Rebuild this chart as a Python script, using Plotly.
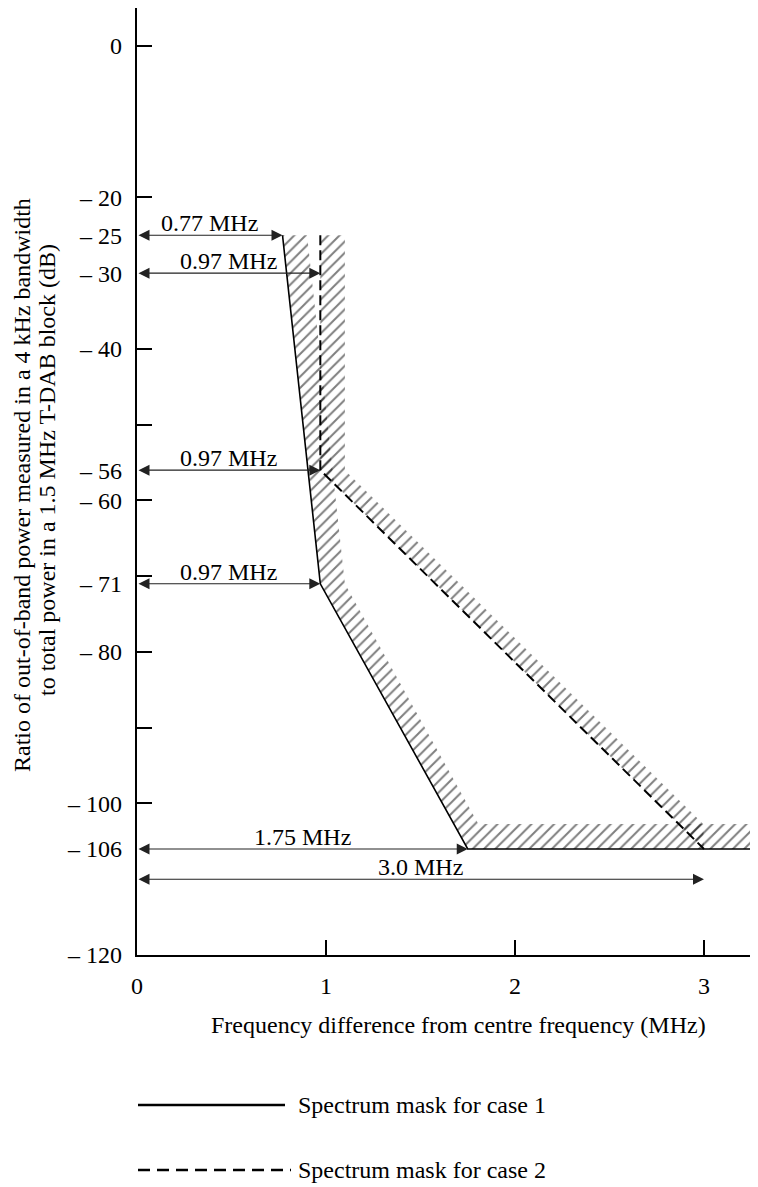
import plotly.graph_objects as go

# ---- data ----
freq_case1 = [0.77, 0.97, 1.75, 3.27]
level_case1 = [-25, -71, -106, -106]
freq_case2 = [0.97, 0.97, 3.0]
level_case2 = [-25, -56, -106]

arrow_levels = [-25, -30, -56, -71, -106, -110]
arrow_ends = [0.77, 0.97, 0.97, 0.97, 1.75, 3.0]
arrow_labels = ["0.77 MHz", "0.97 MHz", "0.97 MHz", "0.97 MHz", "1.75 MHz", "3.0 MHz"]

ytick_label_vals = [0, -20, -25, -30, -40, -56, -60, -71, -80, -100, -106, -120]
ytick_label_text = ["0", "\u2013 20", "\u2013 25", "\u2013 30", "\u2013 40", "\u2013 56",
                    "\u2013 60", "\u2013 71", "\u2013 80", "\u2013 100", "\u2013 106", "\u2013 120"]
ytick_mark_vals = [0, -20, -40, -50, -60, -70, -80, -90, -100]
xtick_vals = [0, 1, 2, 3]
xtick_text = ["0", "1", "2", "3"]

X_MAX = 3.27
Y_MIN, Y_MAX = -120, 5
BAND_W = 0.13   # MHz, hatch band width for sloped parts
BAND_H = 3.3    # dB, hatch band height for flat part

FONT = "Liberation Serif, Times New Roman, serif"
FS = 24

# page has an 8px body margin; figure is sized to compensate
W, H = 750, 1179
ML, MR, MT, MB = 129, 3, 0, 232
PW = W - ML - MR
PH = H - MT - MB


def band(xs, ys, flat=True):
    """Hatched band to the right/above of a mask line."""
    floor = ys[-1]
    top = floor + BAND_H
    outer_x, outer_y = [], []
    pts = [(x, y) for x, y in zip(xs, ys) if y > floor]
    for x, y in pts:
        outer_x.append(x + BAND_W)
        outer_y.append(y)
    idx = next(i for i, y in enumerate(ys) if y == floor)
    x1, y1 = xs[idx - 1], ys[idx - 1]
    x2, y2 = xs[idx], ys[idx]
    xi = x1 + BAND_W + (top - y1) / (y2 - y1) * (x2 - x1)
    outer_x.append(xi)
    outer_y.append(top)
    inner_x = list(xs[:idx + 1])
    inner_y = list(ys[:idx + 1])
    if flat:
        outer_x.append(X_MAX)
        outer_y.append(top)
        inner_x.append(X_MAX)
        inner_y.append(floor)
    px = outer_x + inner_x[::-1] + [outer_x[0]]
    py = outer_y + inner_y[::-1] + [outer_y[0]]
    return px, py


fig = go.Figure()

for xs, ys, flat in [(freq_case1, level_case1, True), (freq_case2, level_case2, False)]:
    bx, by = band(xs, ys, flat)
    fig.add_trace(go.Scatter(
        x=bx, y=by, mode="lines", fill="toself",
        line=dict(width=0, color="rgba(0,0,0,0)"),
        fillcolor="rgba(0,0,0,0)",
        fillpattern=dict(shape="/", size=8, solidity=0.25,
                         fgcolor="black", bgcolor="rgba(0,0,0,0)"),
        hoverinfo="skip", showlegend=False))

fig.add_trace(go.Scatter(x=freq_case1, y=level_case1, mode="lines",
                         line=dict(color="black", width=1.6),
                         showlegend=False, hoverinfo="skip"))
fig.add_trace(go.Scatter(x=freq_case2, y=level_case2, mode="lines", yaxis="y2",
                         line=dict(color="black", width=2, dash="10px,5px"),
                         showlegend=False, hoverinfo="skip"))

tfont = dict(family=FONT, size=FS, color="black")
annotations = []
for lvl, xe, lab in zip(arrow_levels, arrow_ends, arrow_labels):
    annotations.append(dict(
        x=xe, y=lvl, ax=0, ay=lvl, xref="x", yref="y", axref="x", ayref="y",
        text="", showarrow=True, arrowhead=2, arrowside="end+start",
        arrowsize=2.0, arrowwidth=1.1, arrowcolor="#222"))
    annotations.append(dict(
        x=xe / 2, y=lvl, xref="x", yref="y", text=lab, showarrow=False,
        yanchor="bottom", yshift=-3, font=tfont))

# y-axis title, two lines
annotations.append(dict(
    x=0, y=(PH - 477) / PH, xref="paper", yref="paper", xanchor="center", yanchor="middle",
    xshift=14 - ML, textangle=-90, showarrow=False,
    text="Ratio of out-of-band power measured in a 4 kHz bandwidth", font=tfont))
annotations.append(dict(
    x=0, y=(PH - 462) / PH, xref="paper", yref="paper", xanchor="center", yanchor="middle",
    xshift=39 - ML, textangle=-90, showarrow=False,
    text="to total power in a 1.5 MHz T-DAB block (dB)", font=tfont))
# x-axis title
annotations.append(dict(
    x=(450 - ML) / PW, y=0, xref="paper", yref="paper", xanchor="center", yanchor="middle",
    yshift=-70, showarrow=False,
    text="Frequency difference from centre frequency (MHz)", font=tfont))

# legend
annotations.append(dict(x=0, y=0, xref="paper", yref="paper", xanchor="left",
                        yanchor="middle", xshift=288 - ML, yshift=-150, showarrow=False,
                        text="Spectrum mask for case 1", font=tfont))
annotations.append(dict(x=0, y=0, xref="paper", yref="paper", xanchor="left",
                        yanchor="middle", xshift=288 - ML, yshift=-215, showarrow=False,
                        text="Spectrum mask for case 2", font=tfont))

shapes = [
    dict(type="line", xref="paper", yref="paper", x0=(130 - ML) / PW, x1=(277 - ML) / PW,
         y0=-150 / PH, y1=-150 / PH, line=dict(color="black", width=2.5)),
    dict(type="line", xref="paper", yref="paper", x0=(130 - ML) / PW, x1=(283 - ML) / PW,
         y0=-215 / PH, y1=-215 / PH,
         line=dict(color="black", width=2.5, dash="12px,7px")),
]

fig.update_layout(
    width=W, height=H,
    margin=dict(l=ML, r=MR, t=MT, b=MB, pad=0),
    paper_bgcolor="white", plot_bgcolor="white",
    showlegend=False,
    font=dict(family=FONT, size=FS, color="black"),
    xaxis=dict(range=[0, X_MAX], tickvals=xtick_vals, ticktext=xtick_text,
               ticks="inside", ticklen=15, tickwidth=2, tickcolor="black",
               showline=True, linecolor="black", linewidth=1.5,
               showgrid=False, zeroline=False, ticklabelstandoff=8,
               tickfont=dict(family=FONT, size=FS)),
    yaxis=dict(range=[Y_MIN, Y_MAX], tickvals=ytick_mark_vals,
               ticks="inside", ticklen=15, tickwidth=2, tickcolor="black",
               showticklabels=False,
               showline=True, linecolor="black", linewidth=1.5,
               showgrid=False, zeroline=False),
    yaxis2=dict(range=[Y_MIN, Y_MAX], overlaying="y", side="left", anchor="x",
                tickvals=ytick_label_vals, ticktext=ytick_label_text,
                ticks="", showline=False, showgrid=False, zeroline=False,
                ticklabelstandoff=14, tickfont=dict(family=FONT, size=FS)),
    annotations=annotations,
    shapes=shapes,
)

fig.write_html("out.html")
